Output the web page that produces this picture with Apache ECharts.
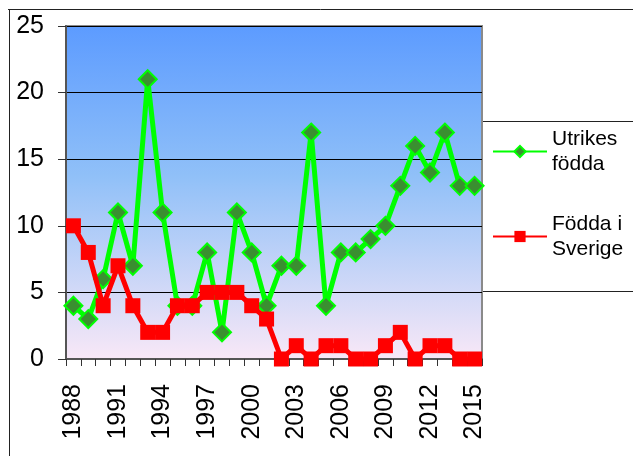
<!DOCTYPE html>
<html>
<head>
<meta charset="utf-8">
<script src="https://cdn.jsdelivr.net/npm/echarts@6/dist/echarts.min.js"></script>
<style>
  html, body { margin: 0; padding: 0; background: #fff; }
  #chart { width: 633px; height: 456px; }
</style>
</head>
<body>
<div id="chart"></div>
<script>
// Years on the category axis
const years = ['1988','1989','1990','1991','1992','1993','1994','1995','1996','1997',
  '1998','1999','2000','2001','2002','2003','2004','2005','2006','2007',
  '2008','2009','2010','2011','2012','2013','2014','2015'];

// Series values per year
const utrikesFodda = [4, 3, 6, 11, 7, 21, 11, 4, 4, 8, 2, 11, 8, 4, 7, 7, 17, 4, 8, 8, 9, 10, 13, 16, 14, 17, 13, 13];
const foddaISverige = [10, 8, 4, 7, 4, 2, 2, 4, 4, 5, 5, 5, 4, 3, 0, 1, 0, 1, 1, 0, 0, 1, 2, 0, 1, 1, 0, 0];

const seriesNames = ['Utrikes födda', 'Födda i Sverige'];
const legendLabels = { 'Utrikes födda': 'Utrikes\nfödda', 'Födda i Sverige': 'Födda i\nSverige' };

const FONT = '"Liberation Sans", Arial, sans-serif';

const chart = echarts.init(document.getElementById('chart'), null, { renderer: 'canvas' });

chart.setOption({
  backgroundColor: '#ffffff',
  animation: false,
  grid: {
    left: 66, right: 151, top: 26, bottom: 97,
    show: true,
    borderColor: '#8a8a8a',
    borderWidth: 2,
    backgroundColor: new echarts.graphic.LinearGradient(0, 0, 0, 1, [
      { offset: 0, color: '#5c9bff' },
      { offset: 0.45, color: '#90c0f8' },
      { offset: 1, color: '#f9e8f7' }
    ])
  },
  legend: {
    orient: 'vertical',
    left: 492,
    top: 114,
    padding: 0,
    itemGap: 10,
    itemWidth: 54,
    itemHeight: 14,
    data: seriesNames,
    formatter: name => legendLabels[name],
    textStyle: {
      fontFamily: FONT,
      fontSize: 21,
      color: '#000',
      lineHeight: 25,
      padding: [25, 0, 0, 0]
    }
  },
  xAxis: {
    type: 'category',
    data: years,
    boundaryGap: true,
    axisLine: { show: true, lineStyle: { color: '#555', width: 2 } },
    axisTick: { show: true, interval: 0, length: 7, lineStyle: { color: '#333', width: 1 } },
    axisLabel: {
      interval: 2,
      rotate: 90,
      margin: 25,
      fontFamily: FONT,
      fontSize: 25,
      color: '#000'
    },
    splitLine: { show: false }
  },
  yAxis: {
    type: 'value',
    min: 0,
    max: 25,
    interval: 5,
    axisLine: { show: true, lineStyle: { color: '#555', width: 2 } },
    axisTick: { show: true, length: 8, lineStyle: { color: '#333', width: 1 } },
    axisLabel: {
      margin: 22,
      fontFamily: FONT,
      fontSize: 25,
      color: '#000'
    },
    splitLine: { show: true, lineStyle: { color: '#000', width: 1.2 } }
  },
  series: [
    {
      name: seriesNames[0],
      type: 'line',
      data: utrikesFodda,
      symbol: 'diamond',
      symbolSize: 18,
      showAllSymbol: true,
      lineStyle: { color: '#00ff00', width: 5 },
      itemStyle: { color: '#3a8f30', borderColor: '#00ff00', borderWidth: 2 },
      z: 2
    },
    {
      name: seriesNames[1],
      type: 'line',
      data: foddaISverige,
      symbol: 'rect',
      symbolSize: 15,
      showAllSymbol: true,
      lineStyle: { color: '#ff0000', width: 5 },
      itemStyle: { color: '#ff0000', borderColor: '#ff0000', borderWidth: 0 },
      z: 3
    }
  ],
  graphic: [
    // outer frame edges
    { type: 'line', silent: true, shape: { x1: 8, y1: 9.5, x2: 633, y2: 9.5 },
      style: { stroke: '#222', lineWidth: 1 } },
    { type: 'line', silent: true, shape: { x1: 9.5, y1: 9.5, x2: 9.5, y2: 456 },
      style: { stroke: '#222', lineWidth: 1 } },
    // legend box
    { type: 'rect', silent: true, z: -1, shape: { x: 482.5, y: 121.5, width: 160, height: 170 },
      style: { fill: 'none', stroke: '#222', lineWidth: 1 } }
  ]
});
</script>
</body>
</html>
